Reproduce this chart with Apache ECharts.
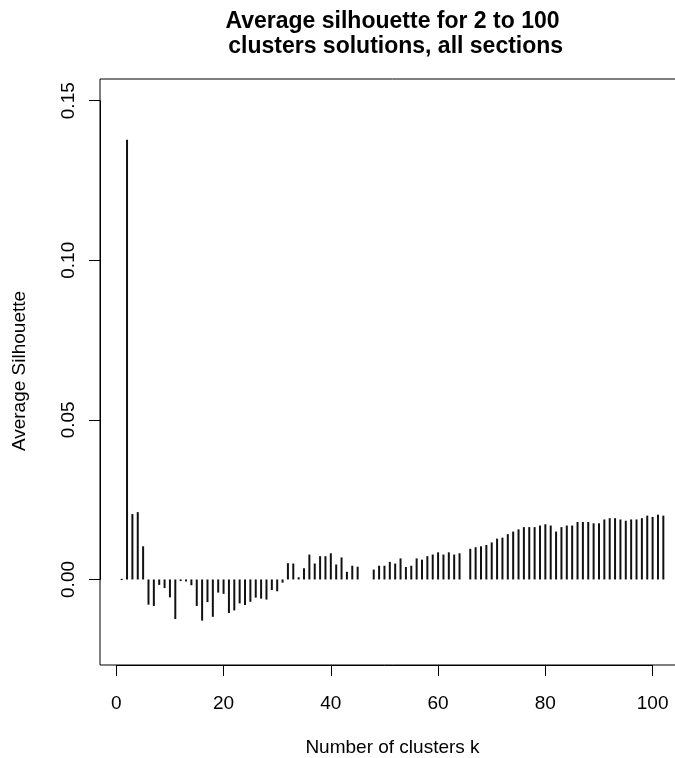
<!DOCTYPE html>
<html>
<head>
<meta charset="utf-8">
<script src="https://cdn.jsdelivr.net/npm/echarts@6/dist/echarts.min.js"></script>
<style>
  html, body { margin: 0; padding: 0; background: #fff; overflow: hidden; }
  /* the plot frame runs past the right edge of the window */
  #chart { width: 700px; height: 758px; }
</style>
</head>
<body>
<div id="chart"></div>
<script>
// Number of clusters k
const clusterK = [
  1, 2, 3, 4, 5, 6, 7, 8, 9, 10,
  11, 12, 13, 14, 15, 16, 17, 18, 19, 20,
  21, 22, 23, 24, 25, 26, 27, 28, 29, 30,
  31, 32, 33, 34, 35, 36, 37, 38, 39, 40,
  41, 42, 43, 44, 45, 46, 47, 48, 49, 50,
  51, 52, 53, 54, 55, 56, 57, 58, 59, 60,
  61, 62, 63, 64, 65, 66, 67, 68, 69, 70,
  71, 72, 73, 74, 75, 76, 77, 78, 79, 80,
  81, 82, 83, 84, 85, 86, 87, 88, 89, 90,
  91, 92, 93, 94, 95, 96, 97, 98, 99, 100,
  101, 102
];

// Average silhouette width per solution (null = no value)
const avgSilhouette = [
  0, 0.1378, 0.0205, 0.0211, 0.0104, -0.0079, -0.0083, -0.0017, -0.0027, -0.0056,
  -0.0124, -0.0005, -0.0006, -0.0018, -0.0083, -0.0129, -0.0071, -0.0117, -0.0041, -0.0045,
  -0.0105, -0.0097, -0.0075, -0.0080, -0.0070, -0.0057, -0.0060, -0.0063, -0.0033, -0.0037,
  -0.0010, 0.0051, 0.0050, 0.0007, 0.0035, 0.0078, 0.0050, 0.0073, 0.0073, 0.0082,
  0.0047, 0.0069, 0.0024, 0.0043, 0.0040, null, null, 0.0031, 0.0043, 0.0043,
  0.0055, 0.0050, 0.0066, 0.0039, 0.0043, 0.0066, 0.0062, 0.0073, 0.0078, 0.0085,
  0.0078, 0.0085, 0.0078, 0.0082, null, 0.0096, 0.0101, 0.0104, 0.0108, 0.0116,
  0.0128, 0.0131, 0.0142, 0.0150, 0.0157, 0.0164, 0.0164, 0.0164, 0.0169, 0.0173,
  0.0169, 0.0150, 0.0164, 0.0169, 0.0169, 0.0180, 0.0180, 0.0180, 0.0176, 0.0176,
  0.0188, 0.0192, 0.0192, 0.0188, 0.0184, 0.0188, 0.0188, 0.0192, 0.0200, 0.0196,
  0.0203, 0.0200
];

const xTicks = [0, 20, 40, 60, 80, 100];
const yTicks = [0, 0.05, 0.10, 0.15];
const yRange = [-0.02, 0.15];

const titleLines = ['Average silhouette for 2 to 100', ' clusters solutions, all sections'];
const xTitle = 'Number of clusters k';
const yTitle = 'Average Silhouette';

// Plot frame (pixels)
const plot = { left: 100, top: 79, width: 585, height: 586 };

// Axis limits widened by 4% on each side
const kMin = clusterK[0], kMax = clusterK[clusterK.length - 1];
const xPad = 0.04 * (kMax - kMin);
const xLim = [kMin - xPad, kMax + xPad];
const yPad = 0.04 * (yRange[1] - yRange[0]);
const yLim = [yRange[0] - yPad, yRange[1] + yPad];

const pxX = plot.width / (xLim[1] - xLim[0]);
const pxY = plot.height / (yLim[1] - yLim[0]);

// Second grid spans exactly the tick range, so ticks start at a round value
const tickGrid = {
  left: plot.left + (xTicks[0] - xLim[0]) * pxX,
  width: (xTicks[xTicks.length - 1] - xTicks[0]) * pxX,
  top: plot.top + (yLim[1] - yTicks[yTicks.length - 1]) * pxY,
  height: (yTicks[yTicks.length - 1] - yTicks[0]) * pxY
};
const xAxisOffset = (plot.top + plot.height) - (tickGrid.top + tickGrid.height);
const yAxisOffset = tickGrid.left - plot.left;

const FONT = 'Liberation Sans, Arial, sans-serif';
const INK = '#000';

const chart = echarts.init(document.getElementById('chart'), null, { renderer: 'canvas' });

// Vertical spikes from zero to each value
function renderSpike(params, api) {
  const v = api.value(1);
  if (v === null || isNaN(v)) return;
  const k = api.value(0);
  const base = api.coord([k, 0]);
  const tip = api.coord([k, v]);
  let top = Math.min(base[1], tip[1]);
  let h = Math.abs(tip[1] - base[1]);
  if (h < 1.2) { top = base[1] - 0.6; h = 1.2; }
  return {
    type: 'rect',
    shape: { x: base[0] - 1, y: top, width: 2, height: h },
    style: { fill: '#111' }
  };
}

chart.setOption({
  animation: false,
  backgroundColor: '#fff',
  grid: [
    {
      left: plot.left, top: plot.top, width: plot.width, height: plot.height,
      outerBoundsMode: 'none',
      show: true, borderColor: INK, borderWidth: 1, backgroundColor: 'transparent'
    },
    {
      left: tickGrid.left, top: tickGrid.top, width: tickGrid.width, height: tickGrid.height,
      outerBoundsMode: 'none',
      show: false
    }
  ],
  xAxis: [
    { gridIndex: 0, type: 'value', min: xLim[0], max: xLim[1], show: false },
    {
      gridIndex: 1, type: 'value', min: xTicks[0], max: xTicks[xTicks.length - 1], interval: 20,
      position: 'bottom', offset: xAxisOffset,
      axisLine: { show: true, onZero: false, lineStyle: { color: INK, width: 1 } },
      axisTick: { show: true, length: 11, inside: false, lineStyle: { color: INK, width: 1 } },
      axisLabel: { margin: 29, fontSize: 19, color: INK, fontFamily: FONT },
      splitLine: { show: false }
    }
  ],
  yAxis: [
    { gridIndex: 0, type: 'value', min: yLim[0], max: yLim[1], show: false },
    {
      gridIndex: 1, type: 'value', min: yTicks[0], max: yTicks[yTicks.length - 1], interval: 0.05,
      position: 'left', offset: yAxisOffset,
      axisLine: { show: true, onZero: false, lineStyle: { color: INK, width: 1 } },
      axisTick: { show: true, length: 11, inside: false, lineStyle: { color: INK, width: 1 } },
      axisLabel: {
        rotate: 90, margin: 22, fontSize: 19, color: INK, fontFamily: FONT,
        formatter: v => v.toFixed(2)
      },
      splitLine: { show: false }
    }
  ],
  graphic: [
    {
      type: 'text', x: plot.left + plot.width / 2, y: 22,
      style: { text: titleLines[0], fill: INK, font: 'bold 23px ' + FONT, textAlign: 'center', textVerticalAlign: 'middle' }
    },
    {
      type: 'text', x: plot.left + plot.width / 2, y: 47,
      style: { text: titleLines[1], fill: INK, font: 'bold 23px ' + FONT, textAlign: 'center', textVerticalAlign: 'middle' }
    },
    {
      type: 'text', x: plot.left + plot.width / 2, y: 748,
      style: { text: xTitle, fill: INK, font: '19px ' + FONT, textAlign: 'center', textVerticalAlign: 'middle' }
    },
    {
      type: 'text', x: 20, y: 371, rotation: Math.PI / 2,
      style: { text: yTitle, fill: INK, font: '19px ' + FONT, textAlign: 'center', textVerticalAlign: 'middle' }
    }
  ],
  series: [
    {
      type: 'custom',
      xAxisIndex: 0, yAxisIndex: 0,
      renderItem: renderSpike,
      encode: { x: 0, y: 1 },
      data: clusterK.map((k, i) => [k, avgSilhouette[i] === null ? '-' : avgSilhouette[i]])
    }
  ]
});
</script>
</body>
</html>
